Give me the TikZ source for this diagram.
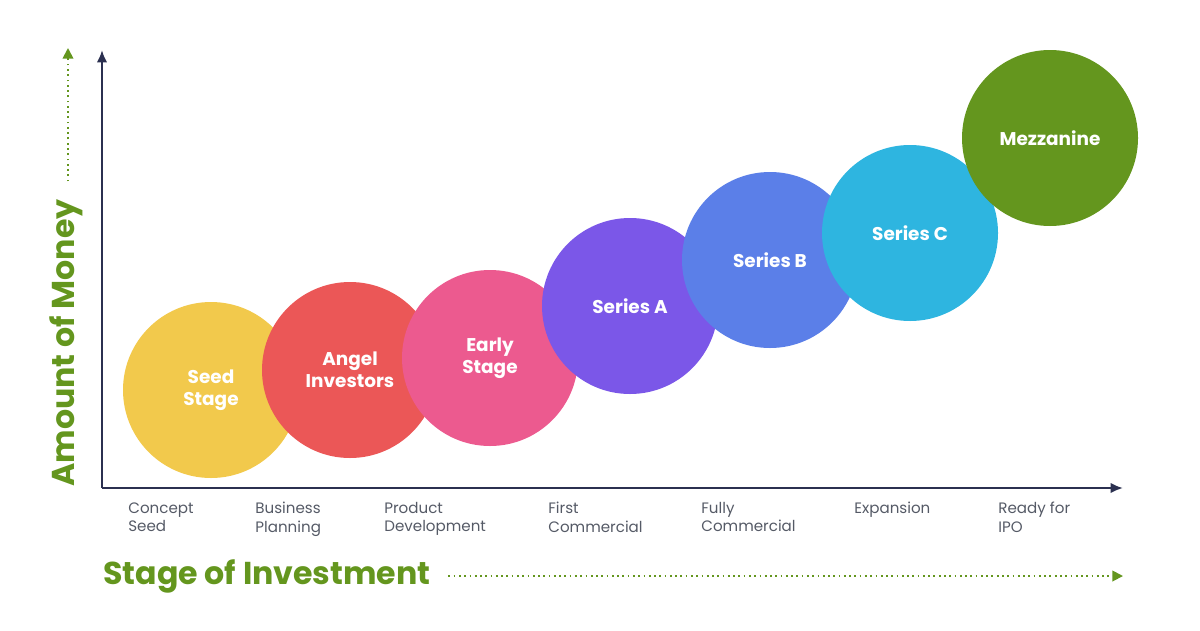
\documentclass[tikz,border=0pt]{standalone}
\usepackage{fontspec}
\setmainfont{Poppins}
\usetikzlibrary{arrows.meta}
\definecolor{axisnavy}{HTML}{2B3050}
\definecolor{moneygreen}{HTML}{64961E}
\definecolor{stagegray}{HTML}{555A66}
\definecolor{seedc}{HTML}{F2C94C}
\definecolor{angelc}{HTML}{EB5757}
\definecolor{earlyc}{HTML}{EC5A8F}
\definecolor{serac}{HTML}{7B57E8}
\definecolor{serbc}{HTML}{5B7FE8}
\definecolor{sercc}{HTML}{2EB5E0}
\definecolor{mezzc}{HTML}{64961E}
\begin{document}
\begin{tikzpicture}[
        % Define styles for consistency
        bubble/.style={circle, minimum size=3.52cm, inner sep=0pt, text=white,
            font=\bfseries\fontsize{10.5}{12.5}\selectfont, align=center},
        stage/.style={anchor=north west, align=left, text=stagegray,
            font=\fontsize{8.6}{10.5}\selectfont, inner sep=0pt},
        axis/.style={axisnavy, line width=1.3pt, -{Latex[length=7pt,width=6pt]}},
        hint/.style={moneygreen, line width=1pt, dotted, -{Triangle[length=6pt,width=6pt]}},
        title/.style={text=moneygreen, font=\bfseries\fontsize{18}{21}\selectfont}
    ]
        \useasboundingbox (0,0) rectangle (24,12.6);

        % --- Coordinates ---
        % Axes
        \coordinate (origin) at (2.04,2.84);
        \coordinate (ytop) at (2.04,11.6);
        \coordinate (xend) at (22.46,2.84);

        % --- Draw Axes ---
        \draw[axis] (origin) -- (ytop);
        \draw[axis] (origin) -- (xend);

        % --- Bubbles (each drawn above the previous one) ---
        \node[bubble, fill=seedc] (seed) at (4.22,4.8) {Seed\\Stage};
        \node[bubble, fill=angelc] (angel) at (7.0,5.2) {Angel\\Investors};
        \node[bubble, fill=earlyc] (early) at (9.8,5.44) {Early\\Stage};
        \node[bubble, fill=serac] (seriesa) at (12.6,6.48) {Series A};
        \node[bubble, fill=serbc] (seriesb) at (15.4,7.4) {Series B};
        \node[bubble, fill=sercc] (seriesc) at (18.2,7.94) {Series C};
        \node[bubble, fill=mezzc] (mezz) at (21.0,9.84) {Mezzanine};

        % --- Stage labels ---
        \node[stage] (concept) at (2.56,2.56) {Concept\\Seed};
        \node[stage] (business) at (5.1,2.56) {Business\\Planning};
        \node[stage] (product) at (7.68,2.56) {Product\\Development};
        \node[stage] (first) at (10.96,2.56) {First\\Commercial};
        \node[stage] (fully) at (14.02,2.56) {Fully\\Commercial};
        \node[stage, anchor=west] (expansion) at (17.08,2.4) {Expansion};
        \node[stage] (ipo) at (19.96,2.56) {Ready for\\IPO};

        % --- Axis titles ---
        \node[title, anchor=west, inner sep=0pt] (xtitle) at (2.06,1.08) {Stage of Investment};
        \coordinate (xhint) at (22.46,1.08);
        \draw[hint] ([xshift=0.35cm]xtitle.east) -- (xhint);

        \node[title, rotate=90, anchor=west, inner sep=0pt] (ytitle) at (1.32,2.86) {Amount of Money};
        \coordinate (yhint) at (1.36,11.64);
        \draw[hint] ([yshift=0.35cm]ytitle.east -| yhint) -- (yhint);
    \end{tikzpicture}
\end{document}
